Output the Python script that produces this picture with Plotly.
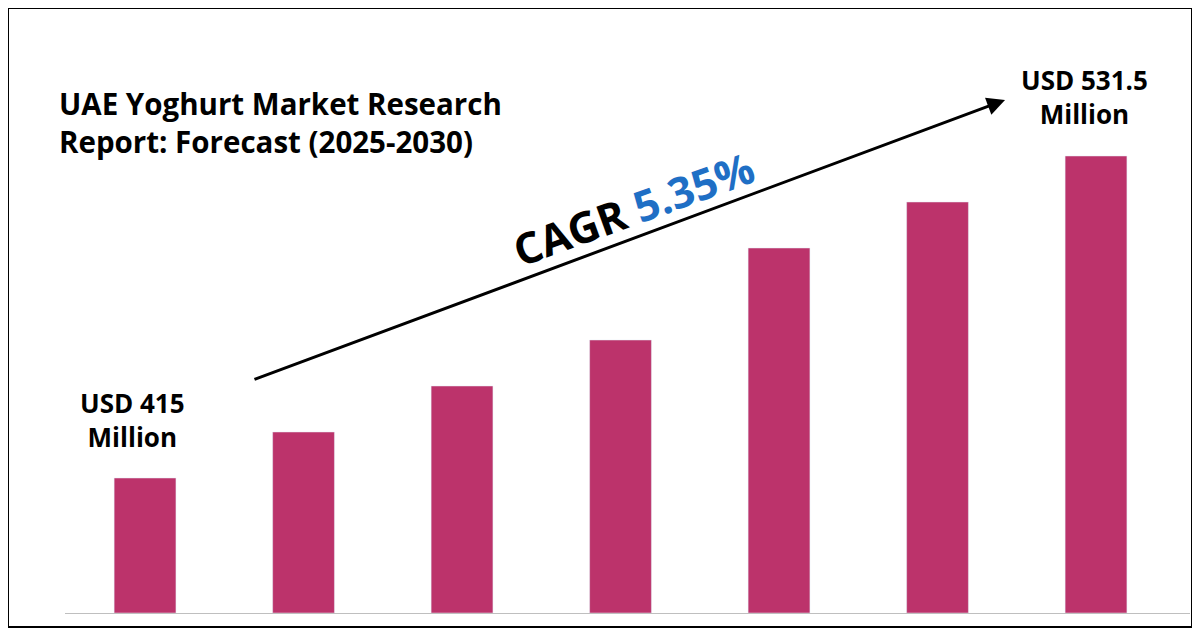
import plotly.graph_objects as go

years = ["2024", "2025", "2026", "2027", "2028", "2029", "2030"]
values = [135, 181, 227, 273, 365, 411, 457]

fig = go.Figure(go.Bar(x=list(range(7)), y=values, width=0.39, marker_color="#BC336B"))
F = "Open Sans"
ann = []
ann.append(dict(x=5.426, y=513, ax=0.681, ay=233, xref="x", yref="y", axref="x", ayref="y",
                showarrow=True, arrowhead=2, arrowsize=1.2, arrowwidth=3, arrowcolor="black", text=""))
ann.append(dict(x=-0.076, y=193, text="<b>USD 415<br>Million</b>", showarrow=False,
                font=dict(family=F, size=26, color="black")))
ann.append(dict(x=5.93, y=516, text="<b>USD 531.5<br>Million</b>", showarrow=False,
                font=dict(family=F, size=26, color="black")))
ann.append(dict(x=3.08, y=405, text="<b>CAGR <span style='color:#1F6FC5'>5.35%</span></b>", showarrow=False,
                textangle=-20, font=dict(family=F, size=43, color="black")))
ann.append(dict(x=-8/1125, y=532/605, xref="paper", yref="paper", xanchor="left", align="left",
                text="<b>UAE Yoghurt Market Research<br>Report: Forecast (2025-2030)</b>", showarrow=False,
                font=dict(family=F, size=29.5, color="black")))
fig.update_layout(
    width=1200, height=630, margin=dict(l=57, r=18, t=0, b=25),
    plot_bgcolor="white", paper_bgcolor="white", showlegend=False, annotations=ann,
    xaxis=dict(range=[-0.505, 6.593], showticklabels=False, showgrid=False, zeroline=False,
               showline=True, linecolor="#BFBFBF", linewidth=1, ticks=""),
    yaxis=dict(range=[0, 605], visible=False),
    shapes=[dict(type="rect", xref="paper", yref="paper", x0=-57/1125, x1=1127/1125,
                 y0=-14/605, y1=1.0, line=dict(color="black", width=2))],
)
fig.write_html("out.html")
